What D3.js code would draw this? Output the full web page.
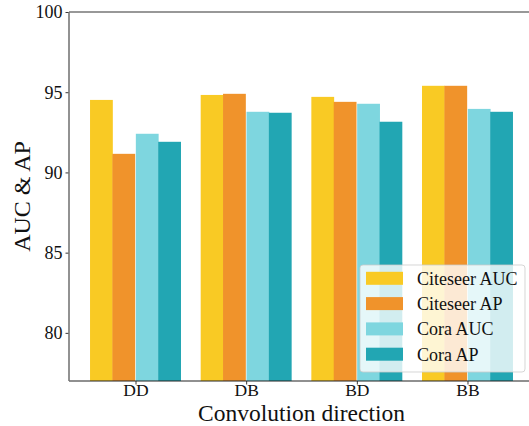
<!DOCTYPE html>
<html>
<head>
<meta charset="utf-8">
<script src="https://cdn.jsdelivr.net/npm/d3@7"></script>
<style>
  html, body { margin: 0; padding: 0; background: #fff; }
  svg, svg text { font-family: "Liberation Serif", "Times New Roman", serif; }
</style>
</head>
<body>
<svg id="chart" width="529" height="426"></svg>
<script>
// Link-prediction scores per convolution direction
const directions = ["DD", "DB", "BD", "BB"];
const seriesNames = ["Citeseer AUC", "Citeseer AP", "Cora AUC", "Cora AP"];
const citeseerAUC = [94.52, 94.83, 94.71, 95.40];
const citeseerAP  = [91.16, 94.90, 94.40, 95.40];
const coraAUC     = [92.41, 93.78, 94.28, 93.96];
const coraAP      = [91.91, 93.72, 93.16, 93.78];
const yTicks = [80, 85, 90, 95, 100];
const colors = ["#f9ca24", "#f0932b", "#7ed6df", "#22a6b3"];

const series = [citeseerAUC, citeseerAP, coraAUC, coraAP];
const serif = '"Liberation Serif", "Times New Roman", serif';

const svg = d3.select("#chart");
const plotLeft = 69, plotRight = 534, plotTop = 12, plotBottom = 381;

// group index on a continuous axis, like a categorical bar plot with margins
const x = d3.scaleLinear().domain([-0.601, 3.601]).range([plotLeft, plotRight]);
const y = d3.scaleLinear().domain([77, 100]).range([plotBottom, plotTop]);

const barWidth = 0.206;
const offsets = [-0.308, -0.106, 0.106, 0.308];

const plot = svg.append("g");
series.forEach((vals, si) => {
  plot.selectAll(null)
    .data(vals)
    .enter()
    .append("rect")
    .attr("x", (d, i) => x(i + offsets[si] - barWidth / 2))
    .attr("width", x(barWidth) - x(0))
    .attr("y", d => y(d))
    .attr("height", d => y(77) - y(d))
    .attr("fill", colors[si]);
});

// axes
const yAxis = d3.axisLeft(y).tickValues(yTicks).tickSize(3.5).tickPadding(3).tickFormat(d3.format("d"));
const gy = svg.append("g").attr("transform", `translate(${plotLeft},0)`).call(yAxis);
gy.attr("font-family", null);
gy.select(".domain").remove();
gy.selectAll(".tick line").attr("stroke", "#222").attr("stroke-width", 0.9);
gy.selectAll(".tick text")
  .style("font-family", serif)
  .attr("font-size", 18).attr("fill", "#111").attr("dy", "0.33em");

const xAxis = d3.axisBottom(x).tickValues(d3.range(directions.length))
  .tickFormat(i => directions[i]).tickSize(3.5);
const gx = svg.append("g").attr("transform", `translate(0,${plotBottom})`).call(xAxis);
gx.attr("font-family", null);
gx.select(".domain").remove();
gx.selectAll(".tick line").attr("stroke", "#222").attr("stroke-width", 0.9);
gx.selectAll(".tick text")
  .style("font-family", serif)
  .attr("font-size", 17.5).attr("fill", "#111")
  .attr("y", 15.1).attr("dy", 0);

// frame
svg.append("line").attr("x1", plotLeft).attr("x2", plotRight).attr("y1", plotTop).attr("y2", plotTop)
  .attr("stroke", "#333").attr("stroke-width", 1.2);
svg.append("line").attr("x1", plotLeft).attr("x2", plotRight).attr("y1", plotBottom).attr("y2", plotBottom)
  .attr("stroke", "#222").attr("stroke-width", 1.2);
svg.append("line").attr("x1", plotLeft).attr("x2", plotLeft).attr("y1", plotTop).attr("y2", plotBottom)
  .attr("stroke", "#777").attr("stroke-width", 1.6);

// axis titles
svg.append("text")
  .attr("x", (plotLeft + plotRight) / 2).attr("y", 420.9)
  .attr("text-anchor", "middle").attr("font-size", 23.5).attr("fill", "#111")
  .style("font-family", serif)
  .text("Convolution direction");
svg.append("text")
  .attr("transform", `translate(30,${(plotTop + plotBottom) / 2}) rotate(-90)`)
  .attr("text-anchor", "middle").attr("font-size", 24).attr("fill", "#111")
  .style("font-family", serif)
  .text("AUC & AP");

// legend
const legend = svg.append("g").attr("transform", "translate(360,265)");
legend.append("rect")
  .attr("width", 165).attr("height", 107).attr("rx", 3)
  .attr("fill", "#fff").attr("fill-opacity", 0.8)
  .attr("stroke", "#ccc").attr("stroke-opacity", 0.8);
seriesNames.forEach((name, i) => {
  const row = legend.append("g").attr("transform", `translate(0,${13.3 + i * 25.3})`);
  row.append("rect").attr("x", 6).attr("y", -6.5).attr("width", 37).attr("height", 13)
    .attr("fill", colors[i]);
  row.append("text").attr("x", 57).attr("y", 0).attr("dy", "0.35em")
    .style("font-family", serif)
    .attr("font-size", 18).attr("fill", "#111").text(name);
});
</script>
</body>
</html>
